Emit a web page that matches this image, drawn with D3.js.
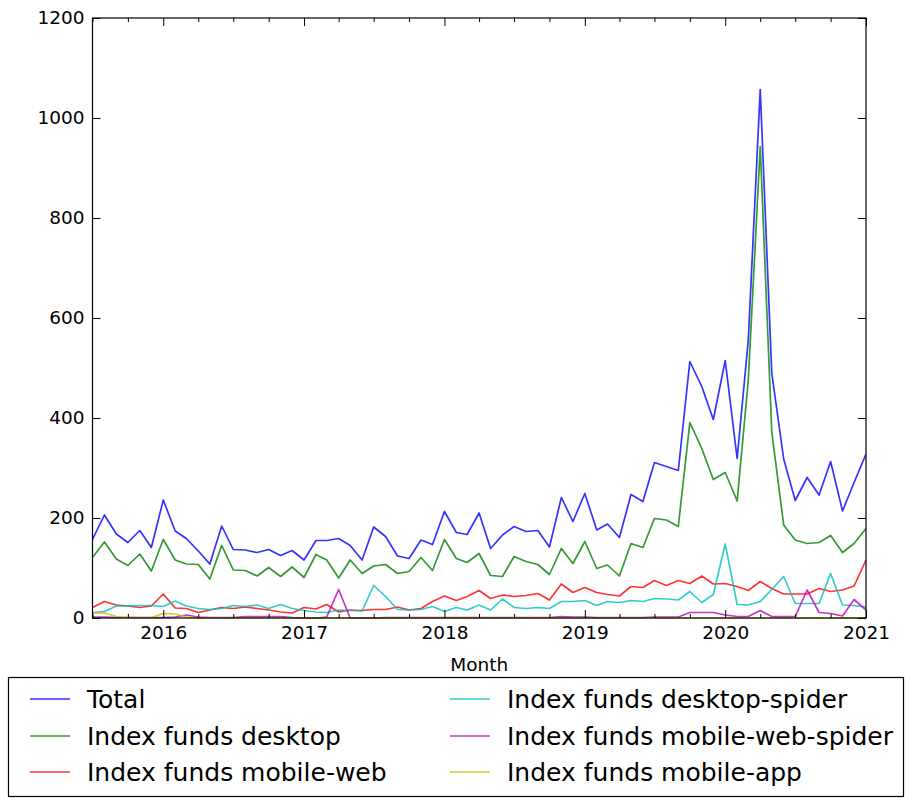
<!DOCTYPE html>
<html>
<head>
<meta charset="utf-8">
<script src="https://cdn.jsdelivr.net/npm/d3@7"></script>
<style>
  html, body { margin: 0; padding: 0; background: #fff; }
  svg { display: block; font-family: "DejaVu Sans", sans-serif; }
</style>
</head>
<body>
<svg id="chart" width="910" height="801"></svg>
<script>
// ---------- DATA ----------
const startMonth = "2015-07";
const endMonth = "2021-01";
const yearTickLabels = ["2016", "2017", "2018", "2019", "2020", "2021"];
const yTickValues = [0, 200, 400, 600, 800, 1000, 1200];

const seriesNames = [
  "Total",
  "Index funds desktop",
  "Index funds mobile-web",
  "Index funds desktop-spider",
  "Index funds mobile-web-spider",
  "Index funds mobile-app"
];
const seriesColors = ["#0000ff", "#008000", "#ff0000", "#00bfbf", "#bf00bf", "#bfbf00"];

const total = [157,206,168,151,175,141,236,174,159,134,108,184,137,136,131,137,125,135,116,155,155,159,145,116,182,163,124,119,156,147,213,171,167,210,139,166,183,173,175,142,241,193,249,176,188,161,247,233,311,303,295,513,463,397,515,319,556,1057,490,318,235,281,246,313,214,271,328];
const desktop = [121,152,118,105,128,94,157,116,108,107,78,145,96,95,84,101,83,102,81,127,116,80,116,89,104,107,89,93,121,95,157,119,111,129,85,83,123,113,107,87,139,109,153,99,106,84,149,141,199,196,183,391,339,277,291,234,476,943,372,186,156,149,151,165,131,149,179];
const mobileWeb = [21,33,26,24,21,24,48,20,19,11,16,21,19,22,19,16,12,10,21,18,27,12,16,15,17,17,22,16,19,33,44,35,43,55,39,46,43,45,49,36,68,51,61,51,47,44,63,61,75,65,75,69,84,68,69,63,55,73,59,48,48,48,59,53,56,64,116];
const desktopSpider = [11,13,24,24,25,25,23,34,24,19,17,19,25,23,26,19,27,19,15,12,11,16,15,14,65,43,17,16,17,23,13,21,16,26,16,38,21,19,21,19,33,33,35,25,33,31,35,33,39,38,36,53,31,47,148,27,26,33,57,83,29,29,29,89,26,25,22];
const mobileWebSpider = [2,2,1,1,1,1,1,2,6,2,1,1,1,3,3,3,3,1,0,0,2,57,0,0,0,1,1,1,1,1,1,1,1,1,1,1,1,1,1,1,3,2,2,1,1,1,1,1,2,2,2,11,11,11,6,3,3,15,3,3,3,56,11,9,4,37,16];
const mobileApp = [10,10,3,1,1,1,9,8,2,0,0,0,0,0,0,0,0,0,0,0,0,0,0,0,0,0,0,0,0,0,0,0,0,0,0,0,0,0,0,0,0,0,0,0,0,0,0,0,0,0,0,0,0,0,0,0,0,0,0,0,0,0,0,0,0,0,0];

const seriesValues = [total, desktop, mobileWeb, desktopSpider, mobileWebSpider, mobileApp];

// ---------- LAYOUT ----------
const svg = d3.select("#chart");
const parse = d3.timeParse("%Y-%m");
const months = d3.timeMonth.range(parse(startMonth), d3.timeMonth.offset(parse(endMonth), 1));

const plot = { left: 92.5, right: 866, top: 18, bottom: 618 };

const x = d3.scaleTime()
  .domain([parse(startMonth), parse(endMonth)])
  .range([plot.left, plot.right]);
const y = d3.scaleLinear()
  .domain([0, 1200])
  .range([plot.bottom, plot.top]);

svg.append("defs").append("clipPath").attr("id", "clip")
  .append("rect")
  .attr("x", plot.left).attr("y", plot.top - 2)
  .attr("width", plot.right - plot.left).attr("height", plot.bottom - plot.top + 4);

const line = d3.line()
  .x((d, i) => x(months[i]))
  .y(d => y(d));

const lineG = svg.append("g").attr("clip-path", "url(#clip)");
seriesValues.forEach((vals, k) => {
  lineG.append("path")
    .datum(vals)
    .attr("fill", "none")
    .attr("stroke", seriesColors[k])
    .attr("stroke-opacity", 0.8)
    .attr("stroke-width", 1.7)
    .attr("stroke-linejoin", "round")
    .attr("d", line);
});

// frame
svg.append("rect")
  .attr("x", plot.left).attr("y", plot.top)
  .attr("width", plot.right - plot.left).attr("height", plot.bottom - plot.top)
  .attr("fill", "none").attr("stroke", "#000").attr("stroke-width", 1.2);

// ticks
const yearDates = yearTickLabels.map(s => d3.timeParse("%Y")(s));
const minorDates = d3.timeMonth.every(3).range(parse(startMonth), d3.timeMonth.offset(parse(endMonth), 1))
  .filter(d => d.getMonth() !== 0);

function styleAxis(g) {
  g.select(".domain").remove();
  g.selectAll(".tick line").attr("stroke", "#000").attr("stroke-width", 1);
  g.selectAll(".tick text").attr("fill", "#000").style("font-size", "18.5px")
    .style("font-family", "'DejaVu Sans', sans-serif");
}

svg.append("g").attr("transform", `translate(0,${plot.bottom})`)
  .call(d3.axisBottom(x).tickValues(yearDates)
    .tickFormat((d, i) => yearTickLabels[i]).tickSize(-8).tickPadding(8))
  .call(styleAxis);
svg.append("g").attr("transform", `translate(0,${plot.bottom})`)
  .call(d3.axisBottom(x).tickValues(minorDates).tickFormat("").tickSize(-4))
  .call(styleAxis);
svg.append("g").attr("transform", `translate(0,${plot.top})`)
  .call(d3.axisTop(x).tickValues(yearDates).tickFormat("").tickSize(-8))
  .call(styleAxis);
svg.append("g").attr("transform", `translate(0,${plot.top})`)
  .call(d3.axisTop(x).tickValues(minorDates).tickFormat("").tickSize(-4))
  .call(styleAxis);
svg.append("g").attr("transform", `translate(${plot.left},0)`)
  .call(d3.axisLeft(y).tickValues(yTickValues).tickFormat(d3.format("d")).tickSize(-8).tickPadding(8))
  .call(styleAxis);
svg.append("g").attr("transform", `translate(${plot.right},0)`)
  .call(d3.axisRight(y).tickValues(yTickValues).tickFormat("").tickSize(-8))
  .call(styleAxis);

svg.append("text")
  .attr("x", (plot.left + plot.right) / 2)
  .attr("y", 671)
  .attr("text-anchor", "middle")
  .style("font-size", "18.5px")
  .text("Month");

// legend
const legend = svg.append("g");
legend.append("rect")
  .attr("x", 8.5).attr("y", 677.5).attr("width", 895).attr("height", 119)
  .attr("fill", "#fff").attr("stroke", "#000").attr("stroke-width", 1.2);

const colX = [30, 450];
const rowY = [699, 736, 772];
seriesNames.forEach((name, k) => {
  const col = Math.floor(k / 3), row = k % 3;
  const g = legend.append("g").attr("transform", `translate(${colX[col]},${rowY[row]})`);
  g.append("line").attr("x1", 0).attr("x2", 40).attr("y1", 0).attr("y2", 0)
    .attr("stroke", seriesColors[k]).attr("stroke-opacity", 0.8).attr("stroke-width", 1.7);
  g.append("text").attr("x", 57).attr("y", 0).attr("dy", "0.36em")
    .style("font-size", "25px").attr("fill", "#000").text(name);
});
</script>
</body>
</html>
